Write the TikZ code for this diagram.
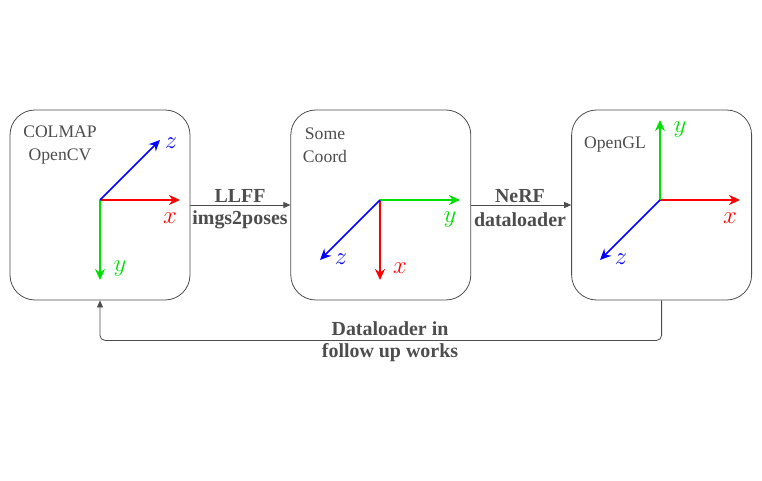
\documentclass[tikz,border=0pt]{standalone}
\usepackage{fontspec}
\setmainfont{Liberation Serif}
\usetikzlibrary{positioning, arrows.meta}

\definecolor{linegray}{HTML}{4D4D4D}
\definecolor{axred}{HTML}{FF0000}
\definecolor{axgreen}{HTML}{00E000}
\definecolor{axblue}{HTML}{0000FF}

\begin{document}
\begin{tikzpicture}[
    x=1bp, y=-1bp,
    node distance=100bp,
    box/.style={draw=linegray, rectangle, rounded corners=25bp, line width=0.8bp, minimum width=180bp, minimum height=190bp},
    caption/.style={text=linegray, font=\fontsize{17.7}{23}\selectfont, align=center, inner sep=0pt},
    conn/.style={-{Triangle[length=7bp,width=6bp]}, draw=linegray, line width=0.8bp},
    edgelabel/.style={text=linegray, font=\bfseries\fontsize{20}{24}\selectfont, inner sep=0pt},
    axis/.style={-{Stealth[length=11bp,width=10bp]}, line width=1.6bp},
    axlabel/.style={font=\fontsize{24}{24}\selectfont, inner sep=0pt}
]
\useasboundingbox (0,0) rectangle (762,481);

% Three coordinate frames
\node[box] (colmap) at (100,205) {};
\node[box, right=of colmap] (some) {};
\node[box, right=of some] (opengl) {};

\node[caption] (colmaptxt) at (60,145) {COLMAP\\OpenCV};
\node[caption] (sometxt) at (325,145) {Some\\Coord};
\node[caption] (opengltxt) at (615,145) {OpenGL};

% COLMAP / OpenCV axes
\coordinate (o1) at (100,200);
\coordinate (x1) at (180,200);
\coordinate (y1) at (100,280);
\coordinate (z1) at (160,140);
\draw[axis, axred] (o1) -- (x1);
\draw[axis, axgreen] (o1) -- (y1);
\draw[axis, axblue] (o1) -- (z1);
\node[axlabel, text=axred] (x1lab) at (170,218) {$x$};
\node[axlabel, text=axgreen] (y1lab) at (120,269) {$y$};
\node[axlabel, text=axblue] (z1lab) at (171,143) {$z$};

% Some Coord axes
\coordinate (o2) at (380,200);
\coordinate (x2) at (380,280);
\coordinate (y2) at (460,200);
\coordinate (z2) at (320,260);
\draw[axis, axred] (o2) -- (x2);
\draw[axis, axgreen] (o2) -- (y2);
\draw[axis, axblue] (o2) -- (z2);
\node[axlabel, text=axred] (x2lab) at (400,268) {$x$};
\node[axlabel, text=axgreen] (y2lab) at (450,220) {$y$};
\node[axlabel, text=axblue] (z2lab) at (341,259) {$z$};

% OpenGL axes
\coordinate (o3) at (660,200);
\coordinate (x3) at (740,200);
\coordinate (y3) at (660,120);
\coordinate (z3) at (600,260);
\draw[axis, axred] (o3) -- (x3);
\draw[axis, axgreen] (o3) -- (y3);
\draw[axis, axblue] (o3) -- (z3);
\node[axlabel, text=axred] (x3lab) at (730,218) {$x$};
\node[axlabel, text=axgreen] (y3lab) at (680,130) {$y$};
\node[axlabel, text=axblue] (z3lab) at (621,259) {$z$};

% Conversions
\draw[conn] (colmap) -- (some);
\draw[conn] (some) -- (opengl);
\node[edgelabel] (llff) at (240,196) {LLFF};
\node[edgelabel] (imgs) at (240,220) {imgs2poses};
\node[edgelabel] (nerf) at (520,196) {NeRF};
\node[edgelabel] (loader) at (520,220) {dataloader};

% Way back
\draw[conn, rounded corners=5bp] (opengl.south) -- ++(0,40) -| (colmap.south);
\node[edgelabel] (back1) at (390,329) {Dataloader in};
\node[edgelabel] (back2) at (390,353) {follow up works};

\end{tikzpicture}
\end{document}
